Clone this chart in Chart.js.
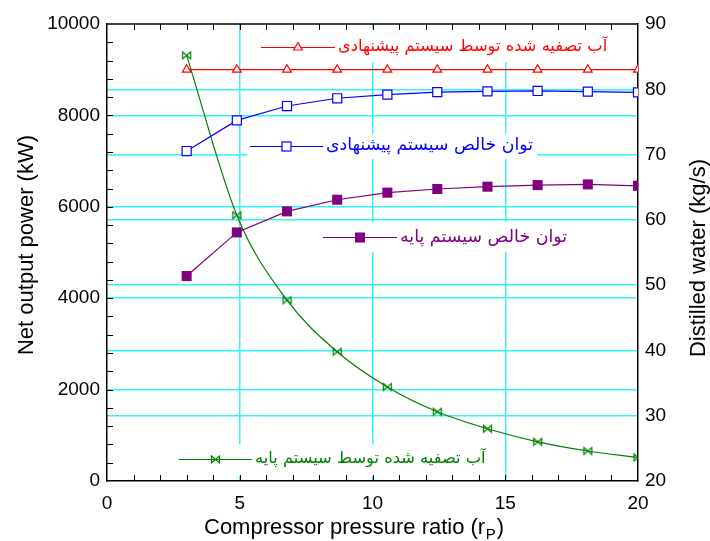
<!DOCTYPE html>
<html>
<head>
<meta charset="utf-8">
<script src="https://cdn.jsdelivr.net/npm/chart.js@4.4.1/dist/chart.umd.min.js"></script>
<style>
html, body { margin: 0; padding: 0; background: #fff; }
</style>
</head>
<body>
<canvas id="chart" width="710" height="541"></canvas>
<script>
// compressor pressure ratio
const ratios = [3, 4.89, 6.78, 8.67, 10.56, 12.44, 14.33, 16.22, 18.11, 20];
// net output power (kW), left axis
const powerProposed = [7220, 7890, 8205, 8375, 8455, 8510, 8525, 8535, 8520, 8505];
const powerBase = [4485, 5440, 5900, 6155, 6310, 6390, 6440, 6475, 6490, 6460];
// distilled water (kg/s), right axis
const waterProposed = [83, 83, 83, 83, 83, 83, 83, 83, 83, 83];
const waterBase = [85.2, 60.7, 47.7, 39.8, 34.4, 30.6, 28.0, 26.0, 24.6, 23.6];

const seriesNames = [
    "آب تصفیه شده توسط سیستم پیشنهادی",
    "توان خالص سیستم پیشنهادی",
    "توان خالص سیستم پایه",
    "آب تصفیه شده توسط سیستم پایه"
];
const xTitle = "Compressor pressure ratio (r";
const xTitleSub = "P";
const yTitle = "Net output power (kW)";
const y2Title = "Distilled water (kg/s)";

const RED = '#ff0000', BLUE = '#0000ff', PURPLE = '#800080', GREEN = '#008000';
const GRID = '#33f5f5';

function pts(vals){
    let res = [];
    for (let i = 0; i < ratios.length; i++){
        res.push({x: ratios[i], y: vals[i]});
    }
    return res;
}

function bowtie(color){
    let c = document.createElement('canvas');
    c.width = 11; c.height = 11;
    let g = c.getContext('2d');
    g.strokeStyle = color;
    g.lineWidth = 1.2;
    g.beginPath();
    g.moveTo(1.5, 2); g.lineTo(9.5, 9); g.lineTo(9.5, 2); g.lineTo(1.5, 9); g.closePath();
    g.stroke();
    return c;
}
const greenMark = bowtie(GREEN);

// legend entries drawn inside the plot (line start, line end, y, box)
const legendPlaces = [
    {x0: 261, x1: 335, y: 47, box: [258, 28, 356, 34]},
    {x0: 250, x1: 323, y: 146, box: [247, 134, 290, 25]},
    {x0: 323, x1: 397, y: 237, box: [318, 222, 254, 30]},
    {x0: 179, x1: 252, y: 459, box: [175, 444, 315, 32]}
];
const legendWidths = [270, 207, 167, 231];

function gridColor(lo, hi){
    return function(ctx){
        let v = ctx.tick.value;
        return (v > lo && v < hi) ? GRID : 'rgba(0,0,0,0)';
    }
}

function plain(v){
    return String(v);
}

function drawMarker(ctx, i, x, y){
    ctx.save();
    if (i == 0){
        ctx.strokeStyle = RED; ctx.fillStyle = '#fff'; ctx.lineWidth = 1.2;
        ctx.beginPath();
        ctx.moveTo(x, y - 5); ctx.lineTo(x + 4.3, y + 2.5); ctx.lineTo(x - 4.3, y + 2.5); ctx.closePath();
        ctx.fill(); ctx.stroke();
    } else if (i == 1){
        ctx.strokeStyle = BLUE; ctx.fillStyle = '#fff'; ctx.lineWidth = 1.2;
        ctx.fillRect(x - 4.5, y - 4.5, 9, 9);
        ctx.strokeRect(x - 4.5, y - 4.5, 9, 9);
    } else if (i == 2){
        ctx.fillStyle = PURPLE;
        ctx.fillRect(x - 5, y - 5, 10, 10);
    } else {
        ctx.drawImage(greenMark, x - 5.5, y - 5.5);
    }
    ctx.restore();
}

const framePlugin = {
    id: 'frame',
    beforeDatasetsDraw(chart){
        const ctx = chart.ctx;
        const {left, right, top, bottom} = chart.chartArea;
        const xs = chart.scales.x, ys = chart.scales.y;
        ctx.save();
        ctx.fillStyle = '#fff';
        for (let p of legendPlaces){
            ctx.fillRect(p.box[0], p.box[1], p.box[2], p.box[3]);
        }
        ctx.strokeStyle = '#000';
        ctx.lineWidth = 1;
        ctx.beginPath();
        for (let v = 1; v < 20; v++){
            let px = Math.round(xs.getPixelForValue(v)) + 0.5;
            ctx.moveTo(px, bottom); ctx.lineTo(px, bottom - 6);
            ctx.moveTo(px, top); ctx.lineTo(px, top + 6);
        }
        for (let v = 400; v < 10000; v += 400){
            let py = Math.round(ys.getPixelForValue(v)) + 0.5;
            ctx.moveTo(left, py); ctx.lineTo(left + 6, py);
        }
        ctx.stroke();
        ctx.lineWidth = 1.5;
        ctx.beginPath();
        ctx.moveTo(left, top); ctx.lineTo(right, top);
        ctx.stroke();
        ctx.restore();
    },
    afterDraw(chart){
        const ctx = chart.ctx;
        const colors = [RED, BLUE, PURPLE, GREEN];
        ctx.save();
        for (let i = 0; i < legendPlaces.length; i++){
            let p = legendPlaces[i];
            ctx.strokeStyle = colors[i];
            ctx.lineWidth = 1.2;
            ctx.beginPath();
            ctx.moveTo(p.x0, p.y + 0.5); ctx.lineTo(p.x1, p.y + 0.5);
            ctx.stroke();
            drawMarker(ctx, i, (p.x0 + p.x1) / 2, p.y + 0.5);

            let size = 20;
            ctx.font = size + 'px "DejaVu Sans"';
            let w = ctx.measureText(seriesNames[i]).width;
            size = size * legendWidths[i] / w;
            ctx.font = size.toFixed(1) + 'px "DejaVu Sans"';
            ctx.fillStyle = colors[i];
            ctx.direction = 'rtl';
            ctx.textAlign = 'left';
            ctx.textBaseline = 'middle';
            ctx.fillText(seriesNames[i], p.x1 + 3, p.y);
        }
        ctx.direction = 'ltr';
        ctx.fillStyle = '#000';
        ctx.textBaseline = 'alphabetic';
        ctx.textAlign = 'left';
        ctx.font = '22px "Liberation Sans", Arial';
        ctx.fillText(xTitle, 204, 534);
        let w = ctx.measureText(xTitle).width;
        ctx.font = '15px "Liberation Sans", Arial';
        ctx.fillText(xTitleSub, 204 + w + 0.5, 539);
        let w2 = ctx.measureText(xTitleSub).width;
        ctx.font = '22px "Liberation Sans", Arial';
        ctx.fillText(')', 204 + w + w2 + 1.5, 534);

        ctx.textAlign = 'center';
        ctx.textBaseline = 'middle';
        ctx.save();
        ctx.translate(27, 245);
        ctx.rotate(-Math.PI / 2);
        ctx.fillText(yTitle, 0, 0);
        ctx.restore();
        ctx.save();
        ctx.translate(699, 258);
        ctx.rotate(-Math.PI / 2);
        ctx.fillText(y2Title, 0, 0);
        ctx.restore();
        ctx.restore();
    }
};

Chart.defaults.font.family = '"Liberation Sans", Arial, sans-serif';
Chart.defaults.color = '#000';

new Chart(document.getElementById('chart'), {
    type: 'line',
    data: {
        datasets: [{
            label: seriesNames[0],
            data: pts(waterProposed),
            yAxisID: 'y2',
            borderColor: RED,
            borderWidth: 1.2,
            pointStyle: 'triangle',
            pointRadius: 5,
            pointBorderWidth: 1.2,
            pointBorderColor: RED,
            pointBackgroundColor: '#fff',
            clip: 0
        }, {
            label: seriesNames[1],
            data: pts(powerProposed),
            yAxisID: 'y',
            borderColor: BLUE,
            borderWidth: 1.2,
            pointStyle: 'rect',
            pointRadius: 6.4,
            pointBorderWidth: 1.2,
            pointBorderColor: BLUE,
            pointBackgroundColor: '#fff',
            clip: 0
        }, {
            label: seriesNames[2],
            data: pts(powerBase),
            yAxisID: 'y',
            borderColor: PURPLE,
            borderWidth: 1.2,
            pointStyle: 'rect',
            pointRadius: 7.1,
            pointBorderWidth: 0,
            pointBackgroundColor: PURPLE,
            clip: 0
        }, {
            label: seriesNames[3],
            data: pts(waterBase),
            yAxisID: 'y2',
            borderColor: GREEN,
            borderWidth: 1.2,
            cubicInterpolationMode: 'monotone',
            pointStyle: greenMark,
            pointRadius: 5,
            clip: 0
        }]
    },
    options: {
        responsive: false,
        animation: false,
        devicePixelRatio: 1,
        layout: {padding: {top: 24, left: 0, right: 0, bottom: 0}},
        plugins: {
            legend: {display: false},
            tooltip: {enabled: false}
        },
        scales: {
            x: {
                type: 'linear',
                min: 0, max: 20,
                ticks: {stepSize: 5, padding: 11, font: {size: 19}, maxRotation: 0, callback: plain},
                grid: {color: gridColor(0, 20), lineWidth: 1.5, drawTicks: false, tickLength: 0},
                border: {display: true, color: '#000', width: 1.5},
                afterFit(s){ s.height = 60; }
            },
            y: {
                position: 'left',
                min: 0, max: 10000,
                ticks: {stepSize: 2000, padding: 7, font: {size: 19}, callback: plain},
                grid: {color: gridColor(0, 10000), lineWidth: 1.5, drawTicks: false, tickLength: 0},
                border: {display: true, color: '#000', width: 1.5},
                afterFit(s){ s.width = 107; }
            },
            y2: {
                position: 'right',
                min: 20, max: 90,
                ticks: {stepSize: 10, padding: 7, font: {size: 19}, callback: plain},
                grid: {color: gridColor(20, 90), lineWidth: 1.5, drawTicks: false, tickLength: 0},
                border: {display: true, color: '#000', width: 1.5},
                afterFit(s){ s.width = 72; }
            }
        }
    },
    plugins: [framePlugin]
});
</script>
</body>
</html>
